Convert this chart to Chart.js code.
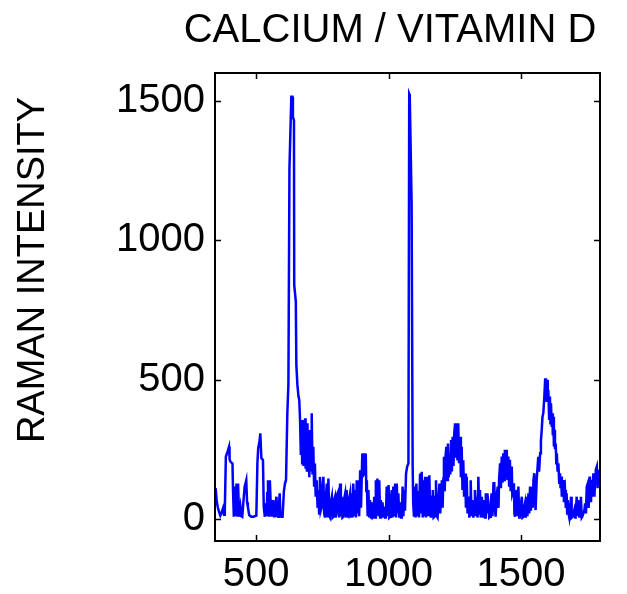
<!DOCTYPE html>
<html><head><meta charset="utf-8">
<script src="https://cdn.jsdelivr.net/npm/chart.js@4"></script>
<style>html,body{margin:0;padding:0;background:#fff;}#wrap{width:627px;height:594px;position:relative}</style>
</head><body><div id="wrap"><canvas id="c" width="627" height="594"></canvas></div>
<script>
const chartTitle = "CALCIUM / VITAMIN D";
const yAxisLabel = "RAMAN INTENSITY";
const xTicks = [500, 1000, 1500];
const yTicks = [0, 500, 1000, 1500];

const wavenumber = [
345,348,352,356,360,365,369,375,379,382,386,392,398,400,403,411,413,416,420,424,426,430,432,436,441,445,448,452,457,463,466,469,474,482,490,501,505,508,513,516,520,526,529,533,537,540,542,545,548,552,555,558,561,564,568,571,574,577,580,583,586,589,592,595,600,605,609,613,618,622,626,633,637,639,643,644,650,652,656,660,663,
666,669,672,674,676,679,681,683,685,687,689,692,694,696,698,701,704,706,708,710,713,716,719,722,725,729,732,735,738,741,744,748,751,754,757,760,763,767,770,773,776,779,782,786,789,792,795,798,801,804,807,811,814,817,820,823,826,829,832,836,839,842,845,848,851,855,858,
861,864,867,870,874,877,880,883,886,889,893,896,899,901,903,905,907,909,912,914,916,918,921,924,927,930,934,937,940,943,946,949,952,955,958,962,965,968,971,974,977,981,984,987,990,993,996,1000,1003,1006,1009,1012,1015,1018,1021,1025,1028,1031,1034,1037,1040,1044,1047,1050,1053,1056,1059,1062,1066,1070,1075,1078,1080,1087,1091,1093,1096,
1099,1102,1105,1108,1112,1115,1119,1122,1125,1129,1132,1135,1138,1141,1144,1147,1150,1154,1157,1160,1164,1167,1170,1173,1176,1179,1182,1185,1188,1192,1195,1198,1201,1204,1207,1209,1212,1215,1218,1221,1224,1227,1230,1233,1236,1239,1242,1245,1248,1251,1254,1257,1260,1263,1266,1270,1273,1276,1279,1282,1285,1289,1292,1295,1298,1301,1305,1308,1310,1313,1316,1320,1323,1326,1330,1333,1336,1339,1342,1345,
1348,1352,1355,1358,1361,1364,1367,1370,1373,1377,1380,1383,1386,1389,1392,1396,1399,1402,1404,1408,1412,1415,1417,1421,1424,1427,1430,1433,1436,1439,1442,1446,1449,1452,1455,1458,1461,1465,1467,1470,1473,1475,1477,1480,1484,1487,1490,1493,1496,1499,1503,1506,1509,1512,1515,1518,1521,1524,1528,1531,1534,1537,1540,1544,1547,1550,1553,1555,1559,1562,1565,1568,1572,1575,1578,1581,1584,1588,1591,
1594,1597,1599,1601,1603,1606,1609,1611,1613,1616,1618,1620,1622,1624,1626,1628,1631,1633,1635,1638,1641,1644,1647,1649,1651,1654,1656,1658,1660,1662,1664,1666,1669,1672,1674,1676,1679,1682,1685,1689,1691,1694,1698,1701,1704,1706,1710,1713,1716,1720,1723,1726,1729,1731,1735,1739,1742,1745,1748,1752,1755,1757,1760,1764,1767,1770,1773,1777,1780,1782,1786,1789,1792,1796,1800
];

const intensity = [
110,104,60,40,26,12,20,38,15,30,224,240,259,215,206,199,104,8,116,10,127,8,127,8,44,10,8,60,116,139,60,44,14,8,8,12,200,253,280,307,218,212,44,8,56,10,92,139,8,139,60,8,40,68,10,20,60,80,10,8,40,92,10,8,8,100,127,140,380,481,1258,1515,1515,1443,1430,840,780,553,481,440,427,
355,230,330,200,355,190,283,200,361,180,259,170,343,180,223,150,319,170,300,379,160,259,120,199,80,139,40,104,20,151,30,44,120,151,20,5,70,127,5,145,10,5,60,80,5,8,70,80,5,20,90,100,5,127,10,80,5,8,70,90,5,104,10,8,70,92,5,
80,5,127,10,104,5,139,20,139,10,175,40,160,235,150,236,170,236,160,235,100,139,10,104,5,68,5,60,5,8,80,5,139,20,145,10,139,5,68,5,60,5,44,5,8,116,10,122,5,8,70,104,5,116,10,127,5,127,20,92,5,60,5,8,116,10,104,30,163,187,199,1525,1520,1133,188,57,8,
116,5,127,10,100,5,163,20,169,5,139,10,151,5,100,151,10,157,20,5,80,104,5,8,80,139,10,5,60,127,20,80,139,40,145,223,100,223,259,140,271,150,235,160,283,170,295,190,307,343,220,331,210,343,200,295,150,259,104,211,80,163,40,151,20,80,5,60,139,10,68,5,60,104,10,80,5,151,20,104,
5,80,5,40,68,5,92,20,92,44,5,8,60,92,10,128,128,30,8,80,116,40,140,200,110,224,130,236,140,248,150,248,140,224,120,212,100,188,90,100,128,20,8,80,104,10,116,5,8,50,80,5,8,40,56,5,80,10,92,20,116,30,92,40,140,164,60,32,140,180,223,170,236,280,319,367,379,439,500,
505,420,499,440,463,360,439,343,415,330,379,300,367,260,320,250,271,200,236,170,200,130,164,110,152,80,116,90,140,60,92,104,40,92,20,68,20,5,40,80,5,8,20,32,5,8,80,10,68,5,30,80,5,8,20,32,56,20,116,128,40,80,152,60,140,80,164,80,150,176,188,110,176,130,170
];

const FONT = '"Liberation Sans", Arial, sans-serif';

const frame = {
  id: 'frame',
  afterDraw(chart) {
    const ctx = chart.ctx, a = chart.chartArea;
    const xs = chart.scales.x, ys = chart.scales.y;
    ctx.save();
    ctx.strokeStyle = '#000';
    ctx.lineWidth = 2;
    ctx.strokeRect(a.left, a.top, a.right - a.left, a.bottom - a.top);
    ctx.beginPath();
    const L = 6;
    xTicks.forEach(v => {
      const p = Math.round(xs.getPixelForValue(v)) + 0.5;
      ctx.moveTo(p, a.bottom); ctx.lineTo(p, a.bottom - L);
      ctx.moveTo(p, a.top); ctx.lineTo(p, a.top + L);
    });
    yTicks.forEach(v => {
      const p = Math.round(ys.getPixelForValue(v)) + 0.5;
      ctx.moveTo(a.left, p); ctx.lineTo(a.left + L, p);
      ctx.moveTo(a.right, p); ctx.lineTo(a.right - L, p);
    });
    ctx.lineWidth = 1.5;
    ctx.stroke();
    ctx.fillStyle = '#000';
    ctx.font = '40px ' + FONT;
    ctx.textAlign = 'center';
    ctx.textBaseline = 'alphabetic';
    ctx.fillText(chartTitle, 390, 42);
    ctx.translate(44, 270);
    ctx.rotate(-Math.PI / 2);
    ctx.font = '38px ' + FONT;
    ctx.fillText(yAxisLabel, 0, 0);
    ctx.restore();
  }
};

new Chart(document.getElementById('c'), {
  type: 'line',
  data: {
    datasets: [{
      data: wavenumber.map((x, i) => ({ x: x, y: intensity[i] })),
      borderColor: '#0000ff',
      borderWidth: 2.5,
      pointRadius: 0,
      tension: 0,
      fill: false
    }]
  },
  options: {
    responsive: false,
    animation: false,
    devicePixelRatio: 1,
    layout: { padding: { top: 73, right: 27, left: 0, bottom: 0 } },
    plugins: { legend: { display: false }, title: { display: false }, tooltip: { enabled: false } },
    scales: {
      x: {
        type: 'linear', min: 345, max: 1798,
        afterBuildTicks: s => { s.ticks = xTicks.map(v => ({ value: v })); },
        afterFit: s => { s.height = 53; },
        grid: { display: false, drawTicks: false },
        border: { display: false },
        ticks: { color: '#000', font: { family: FONT, size: 40 }, padding: 10, maxRotation: 0, autoSkip: false, callback: v => String(v) }
      },
      y: {
        type: 'linear', min: -79, max: 1600,
        afterBuildTicks: s => { s.ticks = yTicks.map(v => ({ value: v })); },
        afterFit: s => { s.width = 215; },
        grid: { display: false, drawTicks: false },
        border: { display: false },
        ticks: { color: '#000', font: { family: FONT, size: 40 }, padding: 10, autoSkip: false, callback: v => String(v) }
      }
    }
  },
  plugins: [frame]
});
</script>
</body></html>
